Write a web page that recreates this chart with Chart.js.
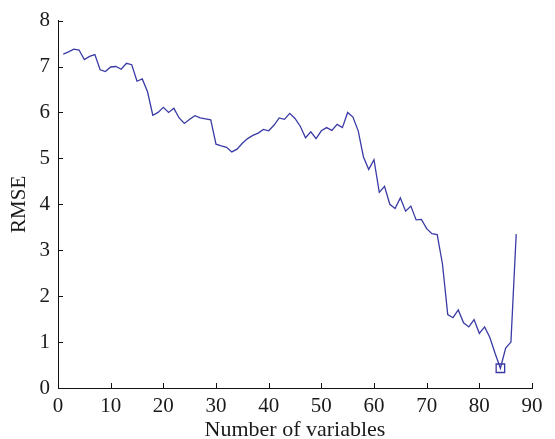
<!DOCTYPE html>
<html>
<head>
<meta charset="utf-8">
<script src="https://cdn.jsdelivr.net/npm/chart.js@4/dist/chart.umd.min.js"></script>
<style>
  html, body { margin: 0; padding: 0; background: #fff; }
  #wrap { width: 555px; height: 439px; position: relative; }
</style>
</head>
<body>
<div id="wrap"><canvas id="c"></canvas></div>
<script>
const variables = [1,2,3,4,5,6,7,8,9,10,11,12,13,14,15,16,17,18,19,20,
  21,22,23,24,25,26,27,28,29,30,31,32,33,34,35,36,37,38,39,40,
  41,42,43,44,45,46,47,48,49,50,51,52,53,54,55,56,57,58,59,60,
  61,62,63,64,65,66,67,68,69,70,71,72,73,74,75,76,77,78,79,80,
  81,82,83,84,85,86,87];
const rmse = [7.27,7.32,7.38,7.36,7.15,7.22,7.26,6.93,6.89,6.99,
  7.00,6.94,7.07,7.04,6.68,6.73,6.45,5.94,6.00,6.11,
  6.00,6.09,5.88,5.76,5.85,5.93,5.88,5.86,5.84,5.31,
  5.27,5.24,5.14,5.20,5.33,5.43,5.50,5.55,5.63,5.60,
  5.72,5.88,5.85,5.98,5.87,5.70,5.45,5.58,5.43,5.60,
  5.67,5.61,5.74,5.67,6.00,5.90,5.60,5.03,4.76,4.97,
  4.26,4.39,4.00,3.91,4.14,3.85,3.96,3.66,3.67,3.47,
  3.36,3.34,2.70,1.60,1.53,1.70,1.42,1.33,1.49,1.19,
  1.33,1.10,0.75,0.43,0.87,1.00,3.35];
const xTicks = [0,10,20,30,40,50,60,70,80,90];
const yTicks = [0,1,2,3,4,5,6,7,8];
const xTitle = 'Number of variables';
const yTitle = 'RMSE';

const lineColor = '#3a3aa6';
const lineData = variables.map((v, i) => ({ x: v, y: rmse[i] }));
let minIdx = 0;
rmse.forEach((v, i) => { if (v < rmse[minIdx]) minIdx = i; });
const minData = [{ x: variables[minIdx], y: rmse[minIdx] }];

const innerTicks = {
  id: 'innerTicks',
  afterDraw(chart) {
    const { ctx, chartArea, scales } = chart;
    ctx.save();
    ctx.strokeStyle = '#111';
    ctx.lineWidth = 1;
    ctx.beginPath();
    scales.x.ticks.forEach(t => {
      const x = Math.round(scales.x.getPixelForValue(t.value)) + 0.5;
      ctx.moveTo(x, chartArea.bottom);
      ctx.lineTo(x, chartArea.bottom - 5);
    });
    scales.y.ticks.forEach(t => {
      const y = Math.round(scales.y.getPixelForValue(t.value)) + 0.5;
      ctx.moveTo(chartArea.left, y);
      ctx.lineTo(chartArea.left + 5, y);
    });
    ctx.stroke();
    ctx.restore();
  }
};

new Chart(document.getElementById('c'), {
  type: 'scatter',
  data: {
    datasets: [
      {
        data: lineData,
        showLine: true,
        borderColor: lineColor,
        borderWidth: 1.3,
        pointRadius: 0,
        tension: 0,
        fill: false
      },
      {
        data: minData,
        showLine: false,
        pointStyle: 'rect',
        pointRadius: 6,
        borderColor: lineColor,
        backgroundColor: 'rgba(0,0,0,0)',
        pointBorderWidth: 1.3
      }
    ]
  },
  options: {
    responsive: true,
    maintainAspectRatio: false,
    animation: false,
    layout: { padding: { left: 0, right: 23, top: 14, bottom: 0 } },
    plugins: { legend: { display: false }, tooltip: { enabled: false } },
    scales: {
      x: {
        type: 'linear',
        min: 0, max: 90,
        afterBuildTicks: s => { s.ticks = xTicks.map(v => ({ value: v })); },
        afterFit: s => { s.height = 51; },
        grid: { display: true, drawOnChartArea: false, drawTicks: false },
        border: { display: true, color: '#111', width: 1 },
        ticks: {
          color: '#1a1a1a',
          padding: 6,
          maxRotation: 0,
          font: { family: '"Liberation Serif", "Times New Roman", serif', size: 21 }
        },
        title: {
          display: true,
          text: xTitle,
          color: '#1a1a1a',
          padding: { top: 0, bottom: 0 },
          font: { family: '"Liberation Serif", "Times New Roman", serif', size: 22, lineHeight: 0.8 }
        }
      },
      y: {
        type: 'linear',
        min: 0, max: 8,
        afterBuildTicks: s => { s.ticks = yTicks.map(v => ({ value: v })); },
        afterFit: s => { s.width = 58; },
        grid: { display: true, drawOnChartArea: false, drawTicks: false },
        border: { display: true, color: '#111', width: 1 },
        ticks: {
          color: '#1a1a1a',
          padding: 8,
          font: { family: '"Liberation Serif", "Times New Roman", serif', size: 21 }
        },
        title: {
          display: true,
          text: yTitle,
          color: '#1a1a1a',
          padding: { top: 9, bottom: 0 },
          font: { family: '"Liberation Serif", "Times New Roman", serif', size: 21, lineHeight: 1 }
        }
      }
    }
  },
  plugins: [innerTicks]
});
</script>
</body>
</html>
